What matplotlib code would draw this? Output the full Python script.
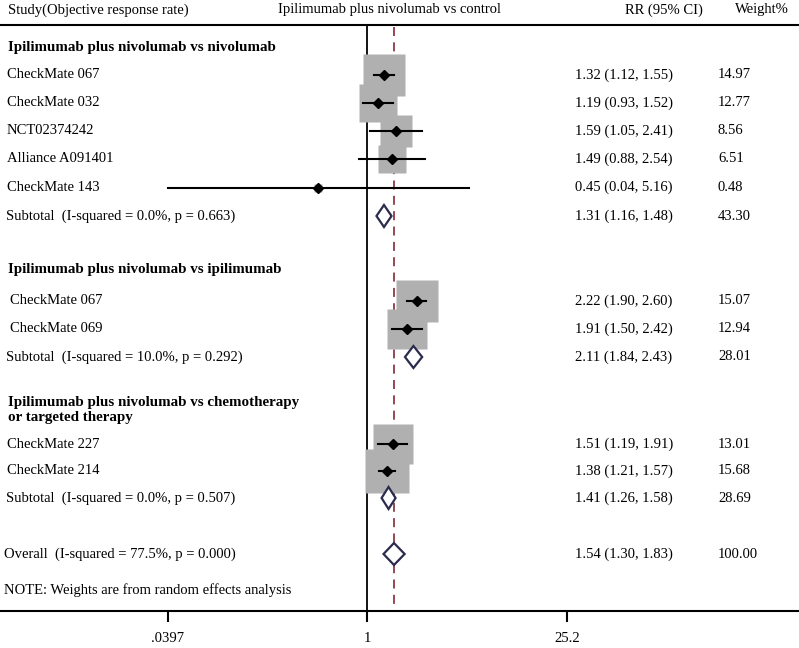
import numpy as np
import matplotlib
matplotlib.use("Agg")
import matplotlib.pyplot as plt

plt.rcParams['font.family'] = ['Liberation Serif', 'DejaVu Serif']

# ---- data ----
g1_title = "Ipilimumab plus nivolumab vs nivolumab"
g1_studies = ["CheckMate 067", "CheckMate 032", "NCT02374242", "Alliance A091401", "CheckMate 143"]
g1_rr = [1.32, 1.19, 1.59, 1.49, 0.45]
g1_lo = [1.12, 0.93, 1.05, 0.88, 0.04]
g1_hi = [1.55, 1.52, 2.41, 2.54, 5.16]
g1_wt = [14.97, 12.77, 8.56, 6.51, 0.48]
g1_sub = [1.31, 1.16, 1.48, 43.30]
g1_het = "Subtotal  (I-squared = 0.0%, p = 0.663)"

g2_title = "Ipilimumab plus nivolumab vs ipilimumab"
g2_studies = ["CheckMate 067", "CheckMate 069"]
g2_rr = [2.22, 1.91]
g2_lo = [1.90, 1.50]
g2_hi = [2.60, 2.42]
g2_wt = [15.07, 12.94]
g2_sub = [2.11, 1.84, 2.43, 28.01]
g2_het = "Subtotal  (I-squared = 10.0%, p = 0.292)"

g3_title = "Ipilimumab plus nivolumab vs chemotherapy\nor targeted therapy"
g3_studies = ["CheckMate 227", "CheckMate 214"]
g3_rr = [1.51, 1.38]
g3_lo = [1.19, 1.21]
g3_hi = [1.91, 1.57]
g3_wt = [13.01, 15.68]
g3_sub = [1.41, 1.26, 1.58, 28.69]
g3_het = "Subtotal  (I-squared = 0.0%, p = 0.507)"

overall = [1.54, 1.30, 1.83, 100.00]
overall_het = "Overall  (I-squared = 77.5%, p = 0.000)"

tick_vals = [0.0397, 1, 25.2]
tick_labels = [".0397", "1", "25.2"]

# ---- layout (pixel rows, top-down) ----
W, H = 799, 648
x_one = 367.3          # pixel column of RR = 1
px_per_ln = 61.8       # pixels per ln unit
axis_y = 611

groups = [
    (g1_title, 47, g1_studies, g1_rr, g1_lo, g1_hi, g1_wt, [75, 103, 131, 159, 187.5], g1_sub, 216, g1_het, 7),
    (g2_title, 270, g2_studies, g2_rr, g2_lo, g2_hi, g2_wt, [301, 329], g2_sub, 357, g2_het, 10),
    (g3_title, 410, g3_studies, g3_rr, g3_lo, g3_hi, g3_wt, [444, 471], g3_sub, 498, g3_het, 7),
]
overall_y = 554
note_y = 590

fig = plt.figure(figsize=(W / 100, H / 100), dpi=100)
ax = fig.add_axes([0, (H - axis_y) / H, 1, axis_y / H])
ax.set_xscale('log')
ax.set_xlim(np.exp(-x_one / px_per_ln), np.exp((W - x_one) / px_per_ln))
ax.set_ylim(axis_y, 0)
for s in ['top', 'left', 'right']:
    ax.spines[s].set_visible(False)
ax.spines['bottom'].set_linewidth(1.5)
ax.set_yticks([])
ax.set_xticks(tick_vals)
ax.set_xticklabels(tick_labels)
ax.minorticks_off()
ax.tick_params(axis='x', length=8, width=1.5, pad=7, labelsize=10.5)

tr = ax.get_yaxis_transform()   # x in axes fraction, y in data
fs = 10.5
col_rr = 575 / W
col_wt = 718 / W
box_col = '#b0b0b0'
dia_col = '#2b2b4e'

# header
ax.text(8 / W, 10, "Study(Objective response rate)", transform=tr, fontsize=fs, va='center', clip_on=False)
ax.text(390 / W, 10, "Ipilimumab plus nivolumab vs control", transform=tr, fontsize=fs, va='center', ha='center', clip_on=False)
ax.text(703 / W, 10, "RR (95% CI)", transform=tr, fontsize=fs, va='center', ha='right', clip_on=False)
ax.text(789 / W, 10, "Weight%", transform=tr, fontsize=fs, va='center', ha='right', clip_on=False)
ax.axhline(25, color='black', lw=1.5)

# reference lines
ax.vlines(1, 25, axis_y, color='black', lw=1.3, zorder=1)
ax.vlines(overall[0], 27, axis_y, color='#8b3a46', lw=1.3, linestyles=(0, (5, 3.5)), zorder=1)


def diamond(est, lo, hi, y):
    xs = [lo, est, hi, est, lo]
    ys = [y, y - 11, y, y + 11, y]
    ax.fill(xs, ys, facecolor='white', edgecolor=dia_col, lw=1.6, zorder=4)


def rr_text(y, est, lo, hi, wt):
    ax.text(col_rr, y, f"{est:.2f} ({lo:.2f}, {hi:.2f})", transform=tr, fontsize=fs, va='center')
    ax.text(col_wt, y, f"{wt:.2f}", transform=tr, fontsize=fs, va='center')


for title, ty, studies, rr, lo, hi, wt, rows, sub, sub_y, het, tx in groups:
    ax.text(8 / W, ty, title, transform=tr, fontsize=10.8, fontweight='bold', va='center', linespacing=1.2)
    for name, r, l, h, w, y in zip(studies, rr, lo, hi, wt, rows):
        side = 10.9 * np.sqrt(w) * 0.72
        ax.plot(r, y, marker='s', ms=side, color=box_col, mec='none', zorder=2)
        ax.plot([l, h], [y, y], color='black', lw=1.5, zorder=3)
        ax.plot(r, y, marker='D', ms=4.8, color='black', zorder=3)
        ax.text(tx / W, y, name, transform=tr, fontsize=fs, va='center')
        rr_text(y, r, l, h, w)
    diamond(sub[0], sub[1], sub[2], sub_y)
    ax.text(6 / W, sub_y, het, transform=tr, fontsize=fs, va='center')
    rr_text(sub_y, *sub)

diamond(overall[0], overall[1], overall[2], overall_y)
ax.text(4 / W, overall_y, overall_het, transform=tr, fontsize=fs, va='center')
rr_text(overall_y, *overall)
ax.text(4 / W, note_y, "NOTE: Weights are from random effects analysis", transform=tr, fontsize=fs, va='center')

fig.savefig("out.png", dpi=100)
